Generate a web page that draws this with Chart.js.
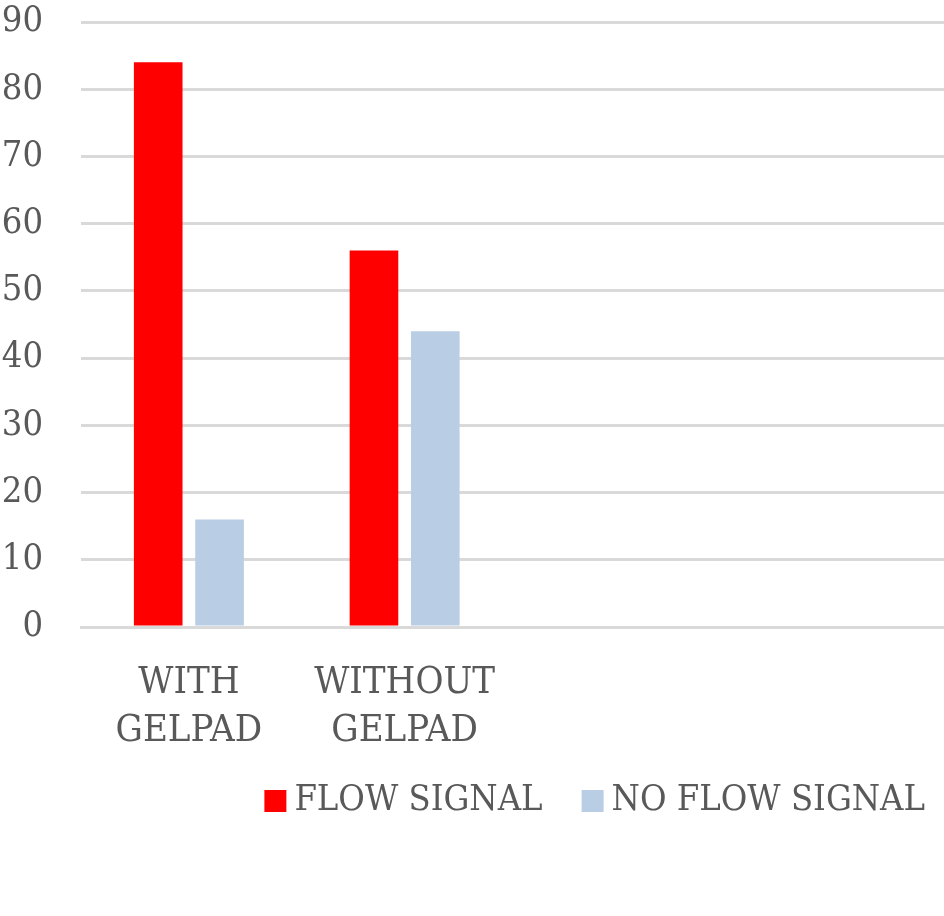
<!DOCTYPE html>
<html>
<head>
<meta charset="utf-8">
<script src="https://cdn.jsdelivr.net/npm/chart.js@4"></script>
<style>
  html, body { margin: 0; padding: 0; background: #fff; }
  #wrap { width: 944px; height: 916px; }
</style>
</head>
<body>
<div id="wrap"><canvas id="chart"></canvas></div>
<script>
const categories = [['WITH', 'GELPAD'], ['WITHOUT', 'GELPAD'], '', ''];
const flowSignal = [84, 56, null, null];
const noFlowSignal = [16, 44, null, null];
const yTicks = { min: 0, max: 90, step: 10 };

const textColor = '#595959';
const gridColor = '#d9d9d9';
const fontFamily = '"DejaVu Serif Condensed", "Liberation Serif", serif';
const fontSize = 36;

/* Excel puts the legend a bit further right and higher than chart.js does */
const legendNudge = {
  id: 'legendNudge',
  afterLayout(chart) {
    const lg = chart.legend;
    lg.left += 30;
    lg.right += 30;
    lg.top -= 18;
    lg.bottom -= 18;
  }
};

const data = {
  labels: categories,
  datasets: [
    {
      label: 'FLOW SIGNAL',
      data: flowSignal,
      backgroundColor: '#ff0000',
      pointStyle: 'rect'
    },
    {
      label: 'NO FLOW SIGNAL',
      data: noFlowSignal,
      backgroundColor: '#b9cde5',
      pointStyle: 'rect'
    }
  ]
};

const config = {
  type: 'bar',
  data: data,
  plugins: [legendNudge],
  options: {
    responsive: true,
    maintainAspectRatio: false,
    animation: false,
    categoryPercentage: 0.5685,
    barPercentage: 0.793,
    layout: {
      padding: { top: 22, bottom: 69, left: 0, right: 0 }
    },
    plugins: {
      tooltip: { enabled: false },
      legend: {
        position: 'bottom',
        align: 'end',
        labels: {
          usePointStyle: true,
          boxWidth: 2,
          boxHeight: 22,
          padding: 49,
          color: textColor,
          font: { family: fontFamily, size: fontSize }
        }
      }
    },
    scales: {
      x: {
        grid: { display: false },
        border: { display: true, color: gridColor, width: 3 },
        ticks: {
          color: textColor,
          padding: 24,
          maxRotation: 0,
          autoSkip: false,
          font: { family: fontFamily, size: 38, lineHeight: '48px' }
        },
        afterFit: scale => { scale.height = 125; }
      },
      y: {
        min: yTicks.min,
        max: yTicks.max,
        grid: { color: gridColor, lineWidth: 3, drawTicks: false },
        border: { display: false },
        ticks: {
          stepSize: yTicks.step,
          color: textColor,
          padding: 38,
          font: { family: fontFamily, size: fontSize }
        },
        afterFit: scale => {
          scale.width = 81;
          scale.paddingTop = 0;
          scale.paddingBottom = 0;
        }
      }
    }
  }
};

new Chart(document.getElementById('chart').getContext('2d'), config);
</script>
</body>
</html>
